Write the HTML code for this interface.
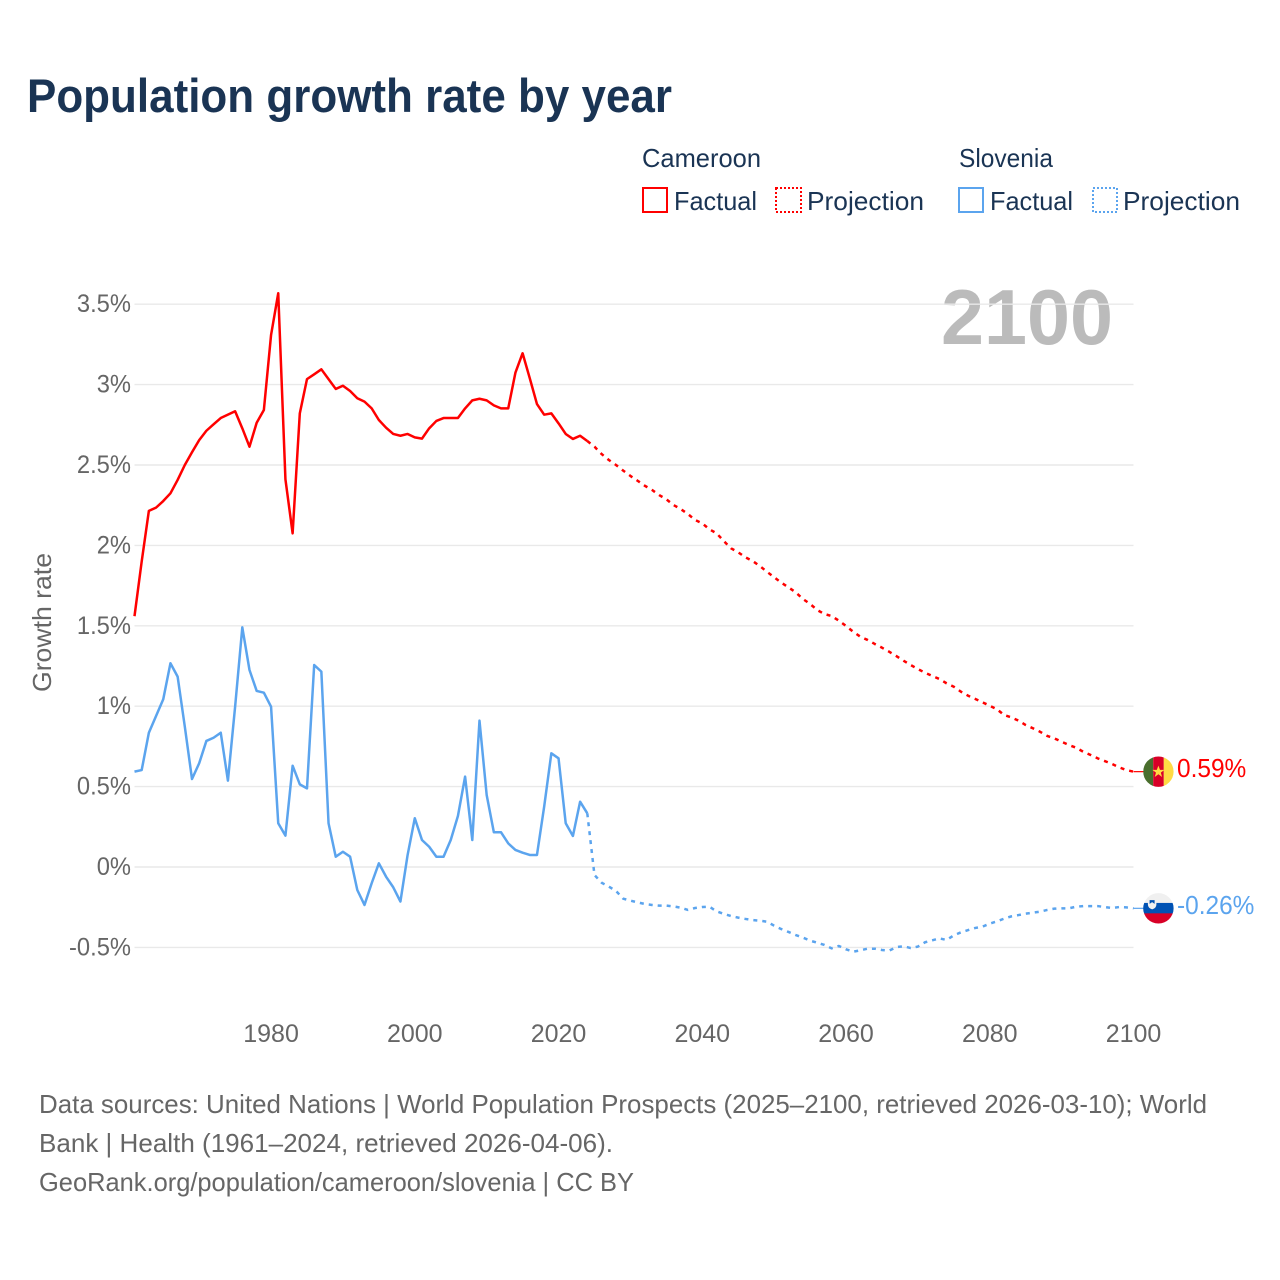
<!DOCTYPE html>
<html lang="en">
<head>
<meta charset="utf-8">
<title>Population growth rate by year</title>
<style>
html,body{margin:0;padding:0;background:#fff;}
svg{display:block;font-family:"Liberation Sans",sans-serif;}
</style>
</head>
<body>
<svg id="chart" xmlns="http://www.w3.org/2000/svg" width="1280" height="1280" viewBox="0 0 1280 1280">
  <rect x="0" y="0" width="1280" height="1280" fill="#fff"/>
  <text x="27" y="112" font-size="47" font-weight="bold" fill="#1a3454" textLength="645" lengthAdjust="spacingAndGlyphs">Population growth rate by year</text>

  <g font-size="26" fill="#1a3454">
    <text x="642" y="167" textLength="119" lengthAdjust="spacingAndGlyphs">Cameroon</text>
    <text x="959" y="167" textLength="94" lengthAdjust="spacingAndGlyphs">Slovenia</text>
    <rect x="643" y="188" width="24" height="24" fill="none" stroke="#ff0000" stroke-width="2"/>
    <text x="674" y="210" textLength="83" lengthAdjust="spacingAndGlyphs">Factual</text>
    <rect x="776" y="188" width="25" height="24" fill="none" stroke="#ff0000" stroke-width="2" stroke-dasharray="2 2"/>
    <text x="807" y="210" textLength="117" lengthAdjust="spacingAndGlyphs">Projection</text>
    <rect x="959" y="188" width="24" height="24" fill="none" stroke="#5ba4ee" stroke-width="2"/>
    <text x="990" y="210" textLength="83" lengthAdjust="spacingAndGlyphs">Factual</text>
    <rect x="1093" y="188" width="24" height="24" fill="none" stroke="#5ba4ee" stroke-width="2" stroke-dasharray="2 2"/>
    <text x="1123" y="210" textLength="117" lengthAdjust="spacingAndGlyphs">Projection</text>
  </g>

  <text transform="translate(51,692) rotate(-90)" font-size="26" fill="#666" textLength="139" lengthAdjust="spacingAndGlyphs">Growth rate</text>
  <text x="941" y="344" font-size="78" font-weight="bold" fill="#bbbbbb" textLength="172" lengthAdjust="spacingAndGlyphs">2100</text>

  <g id="grid"></g>
  <g id="y-ticks"></g>
  <g id="x-ticks"></g>
  <g id="series"></g>

  <defs>
    <clipPath id="flag-clip"><circle cx="0" cy="0" r="15.2"/></clipPath>
  </defs>
  <g id="flag-cameroon" clip-path="url(#flag-clip)">
    <rect x="-15.2" y="-16" width="10" height="32" fill="#496e2d"/>
    <rect x="-5.2" y="-16" width="10.6" height="32" fill="#d80027"/>
    <rect x="5.4" y="-16" width="10" height="32" fill="#ffda44"/>
    <polygon points="0,-6 1.6,-1.8 6,-1.8 2.4,1 3.7,5.3 0,2.6 -3.7,5.3 -2.4,1 -6,-1.8 -1.6,-1.8" fill="#ffda44"/>
  </g>
  <g id="flag-slovenia" clip-path="url(#flag-clip)">
    <rect x="-16" y="-16" width="32" height="11" fill="#f0f0f0"/>
    <rect x="-16" y="-5.4" width="32" height="10.6" fill="#0052b4"/>
    <rect x="-16" y="5" width="32" height="11" fill="#d80027"/>
    <path d="M-10.5,-10 H-2 V-4 Q-2,-0.2 -6.2,1 Q-10.5,-0.2 -10.5,-4 Z" fill="#f0f0f0"/>
    <path d="M-8.8,-8.2 H-3.8 V-4.5 L-6.3,-6.2 L-8.8,-4.5 Z" fill="#0052b4"/>
  </g>

  <g id="end-labels"></g>

  <g font-size="26" fill="#666">
    <text x="39" y="1113" textLength="1168" lengthAdjust="spacingAndGlyphs">Data sources: United Nations | World Population Prospects (2025–2100, retrieved 2026-03-10); World</text>
    <text x="39" y="1152" textLength="574" lengthAdjust="spacingAndGlyphs">Bank | Health (1961–2024, retrieved 2026-04-06).</text>
    <text x="39" y="1191" textLength="595" lengthAdjust="spacingAndGlyphs">GeoRank.org/population/cameroon/slovenia | CC BY</text>
  </g>
</svg>

<script>
const factualStartYear = 1961;
const projectionStartYear = 2024;

const xTickYears = [1980, 2000, 2020, 2040, 2060, 2080, 2100];
const yTickValues = [3.5, 3, 2.5, 2, 1.5, 1, 0.5, 0, -0.5];
const yTickLabels = ['3.5%', '3%', '2.5%', '2%', '1.5%', '1%', '0.5%', '0%', '-0.5%'];

const cameroonFactual = [
  1.56, 1.9, 2.215, 2.235, 2.276, 2.324, 2.407, 2.5, 2.579, 2.655,
  2.713, 2.753, 2.792, 2.813, 2.834, 2.728, 2.614, 2.763, 2.842, 3.308,
  3.568, 2.411, 2.075, 2.821, 3.034, 3.064, 3.095, 3.034, 2.973, 2.993,
  2.96, 2.915, 2.894, 2.852, 2.78, 2.732, 2.693, 2.682, 2.693, 2.672,
  2.664, 2.728, 2.774, 2.792, 2.792, 2.792, 2.852, 2.902, 2.912, 2.902,
  2.871, 2.852, 2.852, 3.074, 3.195, 3.039, 2.879, 2.813, 2.821, 2.759,
  2.693, 2.662, 2.682, 2.649
];

const cameroonProjection = [
  2.649, 2.614, 2.568, 2.531, 2.5, 2.465, 2.432, 2.402, 2.371, 2.345,
  2.313, 2.287, 2.251, 2.226, 2.195, 2.158, 2.137, 2.1, 2.075, 2.027,
  1.982, 1.957, 1.926, 1.903, 1.872, 1.836, 1.802, 1.768, 1.739, 1.708,
  1.667, 1.636, 1.598, 1.573, 1.561, 1.532, 1.499, 1.463, 1.432, 1.412,
  1.387, 1.364, 1.339, 1.312, 1.283, 1.256, 1.231, 1.208, 1.188, 1.169,
  1.142, 1.121, 1.09, 1.065, 1.045, 1.024, 1.003, 0.981, 0.945, 0.931,
  0.91, 0.883, 0.863, 0.841, 0.815, 0.8, 0.779, 0.759, 0.742, 0.717,
  0.697, 0.676, 0.659, 0.641, 0.62, 0.603, 0.593
];

const sloveniaFactual = [
  0.593, 0.603, 0.835, 0.939, 1.043, 1.267, 1.184, 0.873, 0.547, 0.645,
  0.784, 0.804, 0.835, 0.537, 0.997, 1.49, 1.225, 1.095, 1.084, 0.997,
  0.272, 0.195, 0.63, 0.514, 0.489, 1.256, 1.215, 0.272, 0.064, 0.095,
  0.064, -0.143, -0.236, -0.101, 0.023, -0.06, -0.126, -0.215, 0.075, 0.303,
  0.168, 0.126, 0.064, 0.064, 0.168, 0.317, 0.562, 0.168, 0.91, 0.448,
  0.216, 0.216, 0.147, 0.106, 0.089, 0.075, 0.075, 0.375, 0.707, 0.676,
  0.272, 0.193, 0.406, 0.334
];

const sloveniaProjection = [
  0.334, -0.05, -0.098, -0.122, -0.149, -0.197, -0.209, -0.22, -0.23, -0.236,
  -0.24, -0.24, -0.245, -0.253, -0.267, -0.255, -0.249, -0.247, -0.276, -0.292,
  -0.305, -0.315, -0.323, -0.33, -0.334, -0.34, -0.365, -0.386, -0.404, -0.423,
  -0.439, -0.458, -0.471, -0.485, -0.506, -0.491, -0.512, -0.527, -0.518, -0.508,
  -0.508, -0.516, -0.52, -0.498, -0.493, -0.504, -0.495, -0.468, -0.456, -0.444,
  -0.454, -0.425, -0.406, -0.392, -0.379, -0.371, -0.352, -0.338, -0.321, -0.307,
  -0.299, -0.29, -0.284, -0.278, -0.267, -0.259, -0.257, -0.257, -0.247, -0.243,
  -0.243, -0.243, -0.249, -0.255, -0.249, -0.251, -0.257
];

const SVG_NS = 'http://www.w3.org/2000/svg';
const RED = '#ff0000';
const BLUE = '#5ba4ee';
const PLOT_LEFT = 134.5;
const PLOT_RIGHT = 1133.5;
const FLAG_X = 1158.4;

function xScale(year) {
  return PLOT_LEFT + (year - 1961) * (PLOT_RIGHT - PLOT_LEFT) / (2100 - 1961);
}
function yScale(value) {
  return 867 - value * 160.8;
}
function linePoints(values, startYear) {
  return values.map(function (v, i) {
    return xScale(startYear + i).toFixed(2) + ',' + yScale(v).toFixed(2);
  }).join(' ');
}
function svgEl(tag, parent) {
  const el = document.createElementNS(SVG_NS, tag);
  parent.appendChild(el);
  return el;
}

const gridGroup = document.getElementById('grid');
const yTickGroup = document.getElementById('y-ticks');
const xTickGroup = document.getElementById('x-ticks');
const seriesGroup = document.getElementById('series');
const endGroup = document.getElementById('end-labels');

yTickValues.forEach(function (v, i) {
  const line = svgEl('line', gridGroup);
  
  
  line.setAttribute('x1', PLOT_LEFT);
  line.setAttribute('x2', PLOT_RIGHT);
  line.setAttribute('y1', yScale(v));
  line.setAttribute('y2', yScale(v));
  line.setAttribute('stroke', '#e9e9e9');
  line.setAttribute('stroke-width', '1.4');

  const label = svgEl('text', yTickGroup);
  
  
  label.setAttribute('x', 131);
  label.setAttribute('y', yScale(v) + 8);
  label.setAttribute('text-anchor', 'end');
  label.setAttribute('font-size', '25');
  label.setAttribute('fill', '#666');
  label.textContent = yTickLabels[i];
  label.setAttribute('textLength', (label.getComputedTextLength() * 0.95).toFixed(1));
  label.setAttribute('lengthAdjust', 'spacingAndGlyphs');
});

xTickYears.forEach(function (year) {
  const label = svgEl('text', xTickGroup);
  
  
  label.setAttribute('x', xScale(year));
  label.setAttribute('y', 1042);
  label.setAttribute('text-anchor', 'middle');
  label.setAttribute('font-size', '25');
  label.setAttribute('fill', '#666');
  label.textContent = String(year);
});

function drawSeries(name, values, startYear, color, dashed) {
  const line = svgEl('polyline', seriesGroup);
  
  
  line.setAttribute('points', linePoints(values, startYear));
  line.setAttribute('fill', 'none');
  line.setAttribute('stroke', color);
  line.setAttribute('stroke-width', '2.5');
  line.setAttribute('stroke-linejoin', 'round');
  if (dashed) {
    line.setAttribute('stroke-dasharray', '4 5');
  }
}

drawSeries('cameroon-factual-line', cameroonFactual, factualStartYear, RED, false);
drawSeries('cameroon-projection-line', cameroonProjection, projectionStartYear, RED, true);
drawSeries('slovenia-factual-line', sloveniaFactual, factualStartYear, BLUE, false);
drawSeries('slovenia-projection-line', sloveniaProjection, projectionStartYear, BLUE, true);

function drawEnd(name, flagId, lastValue, color) {
  const py = yScale(lastValue);
  document.getElementById(flagId).setAttribute('transform', 'translate(' + FLAG_X + ',' + py.toFixed(2) + ')');

  const connector = svgEl('line', seriesGroup);
  
  
  connector.setAttribute('x1', PLOT_RIGHT);
  connector.setAttribute('x2', FLAG_X - 14);
  connector.setAttribute('y1', py);
  connector.setAttribute('y2', py);
  connector.setAttribute('stroke', color);
  connector.setAttribute('stroke-width', '1.2');

  const label = svgEl('text', endGroup);
  
  
  label.setAttribute('x', 1177);
  label.setAttribute('y', py + 5.5);
  label.setAttribute('font-size', '26');
  label.setAttribute('fill', color);
  label.textContent = lastValue.toFixed(2) + '%';
  label.setAttribute('textLength', (label.getComputedTextLength() * 0.94).toFixed(1));
  label.setAttribute('lengthAdjust', 'spacingAndGlyphs');
}

drawEnd('cameroon', 'flag-cameroon', cameroonProjection[cameroonProjection.length - 1], RED);
drawEnd('slovenia', 'flag-slovenia', sloveniaProjection[sloveniaProjection.length - 1], BLUE);
</script>
</body>
</html>
